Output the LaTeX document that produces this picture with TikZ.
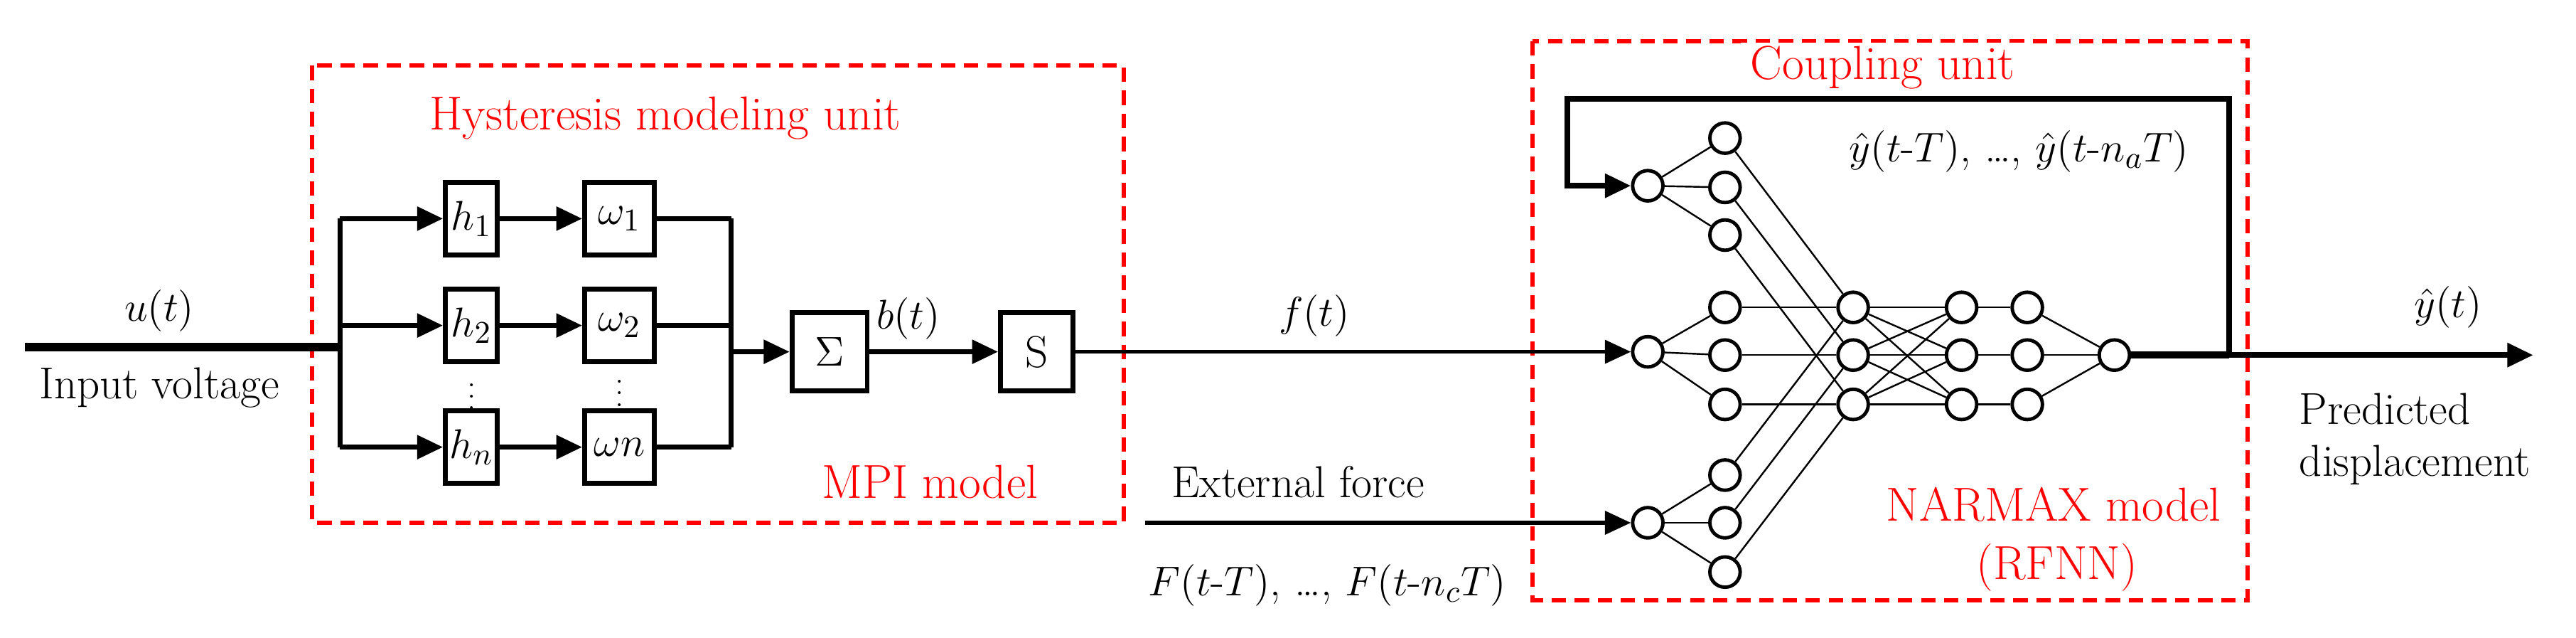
\documentclass[tikz,border=0pt]{standalone}
\usetikzlibrary{arrows.meta}
\begin{document}
\begin{tikzpicture}[x=0.02cm,y=-0.02cm,font=\fontsize{15.5}{18}\selectfont,
 red dash/.style={draw=red,line width=1.5pt,dash pattern=on 5pt off 3pt},
 rlab/.style={text=red,font=\fontsize{16.5}{19}\selectfont},
 blk/.style={draw,line width=1.7pt,minimum width=18pt,minimum height=25pt,inner sep=0pt},
 wblk/.style={blk,minimum width=24pt},
 nn/.style={circle,draw,line width=1.2pt,minimum size=10.5pt,inner sep=0pt,fill=white},
 br/.style={line width=1.8pt},
 tip/.style={-{Triangle[length=9pt,width=8pt]}},
 thin/.style={line width=0.6pt}]
\useasboundingbox (0,0) rectangle (1568,388);
% red boxes
\draw[red dash] (190,40) rectangle (684,318);
\draw[red dash] (933,25) rectangle (1368,365);
\node[rlab] (hm) at (405,72) {Hysteresis modeling unit};
\node[rlab] (mpi) at (566,293) {MPI model};
\node[rlab,fill=white,inner ysep=1pt] (cu) at (1146,41) {Coupling unit};
\node[rlab] (nar) at (1250,307) {NARMAX model};
\node[rlab] (rf) at (1252,345) {(RFNN)};
% input
\coordinate (in0) at (15,211);
\coordinate (sp) at (207,211);
\draw[line width=3pt] (in0) -- (sp);
\node (ut) at (97,189) {$u(t)$};
\node (iv) at (97,236) {Input voltage};
% MPI blocks
\foreach \i/\y/\hl/\wl in {1/133/{$h_{\scriptstyle 1}$}/{$\omega_{\scriptstyle 1}$},2/198/{$h_{\scriptstyle 2}$}/{$\omega_{\scriptstyle 2}$},n/272/{$h_n$}/{$\omega n$}}{
 \node[blk] (h\i) at (287,\y) {\hl};
 \node[wblk] (w\i) at (377,\y) {\wl};
 \coordinate (a\i) at (207,\y);
 \coordinate (b\i) at (445,\y);
 \draw[br,tip] (a\i) -- (h\i);
 \draw[br,tip] (h\i) -- (w\i);
 \draw[br] (w\i) -- (b\i);
}
\draw[br] (a1) -- (an);
\draw[br] (b1) -- (bn);
\node[font=\small] (d1) at (287,236) {$\vdots$};
\node[font=\small] (d2) at (377,234) {$\vdots$};
\node[blk,minimum width=26pt,minimum height=27pt] (sig) at (505,214) {$\Sigma$};
\node[blk,minimum width=25pt,minimum height=27pt] (S) at (631,214) {S};
\coordinate (bm) at (445,214);
\draw[br,tip] (bm) -- (sig);
\draw[br,tip] (sig) -- (S);
\node (bt) at (553,194) {$b(t)$};
% NN
\foreach \j/\y in {1/113,2/214,3/318}{ \node[nn] (i\j) at (1003,\y) {}; }
\foreach \k/\y in {1/84,2/114,3/143,4/187,5/216,6/246,7/289,8/318,9/348}{ \node[nn] (g\k) at (1050,\y) {}; }
\foreach \k/\y in {1/187,2/216,3/246}{
 \node[nn] (p\k) at (1128,\y) {};
 \node[nn] (q\k) at (1194,\y) {};
 \node[nn] (r\k) at (1234,\y) {};
}
\node[nn] (o) at (1287,216) {};
\foreach \j/\a/\b/\c in {1/1/2/3,2/4/5/6,3/7/8/9}{
 \draw[thin] (i\j) -- (g\a); \draw[thin] (i\j) -- (g\b); \draw[thin] (i\j) -- (g\c);
}
\foreach \k in {1,2,3}{
 \pgfmathtruncatemacro{\u}{\k}\pgfmathtruncatemacro{\v}{\k+3}\pgfmathtruncatemacro{\w}{\k+6}
 \draw[thin] (g\u) -- (p\k); \draw[thin] (g\v) -- (p\k); \draw[thin] (g\w) -- (p\k);
 \foreach \m in {1,2,3}{ \draw[thin] (p\k) -- (q\m); }
 \draw[thin] (q\k) -- (r\k);
 \draw[thin] (r\k) -- (o);
}
% f(t) line
\draw[line width=1.3pt,tip] (S) -- (i2);
\node (ft) at (800,192) {$f(t)$};
% external force
\coordinate (ef) at (697,318);
\draw[line width=1.3pt,tip] (ef) -- (i3);
\node (eft) at (790,293) {External force};
\node (Ft) at (808,356) {$F(t\mbox{-}T)$, \dots, $F(t\mbox{-}n_{\scriptstyle c}T)$};
% output and loop
\coordinate (lr) at (1357,216);
\coordinate (lt) at (1357,60);
\coordinate (ll) at (954,60);
\coordinate (lb) at (954,113);
\coordinate (out) at (1542,216);
\draw[line width=2.4pt] (o) -- (lr);
\draw[line width=2pt,tip] (lr) -- (out);
\draw[line width=2pt,tip] (lr) -- (lt) -- (ll) -- (lb) -- (i1);
\node (yl) at (1229,92) {$\hat y(t\mbox{-}T)$, \dots, $\hat y(t\mbox{-}n_{\scriptstyle a}T)$};
\node (yt) at (1490,187) {$\hat y(t)$};
\node[align=left] (pd) at (1470,267) {Predicted\\displacement};
\end{tikzpicture}
\end{document}
